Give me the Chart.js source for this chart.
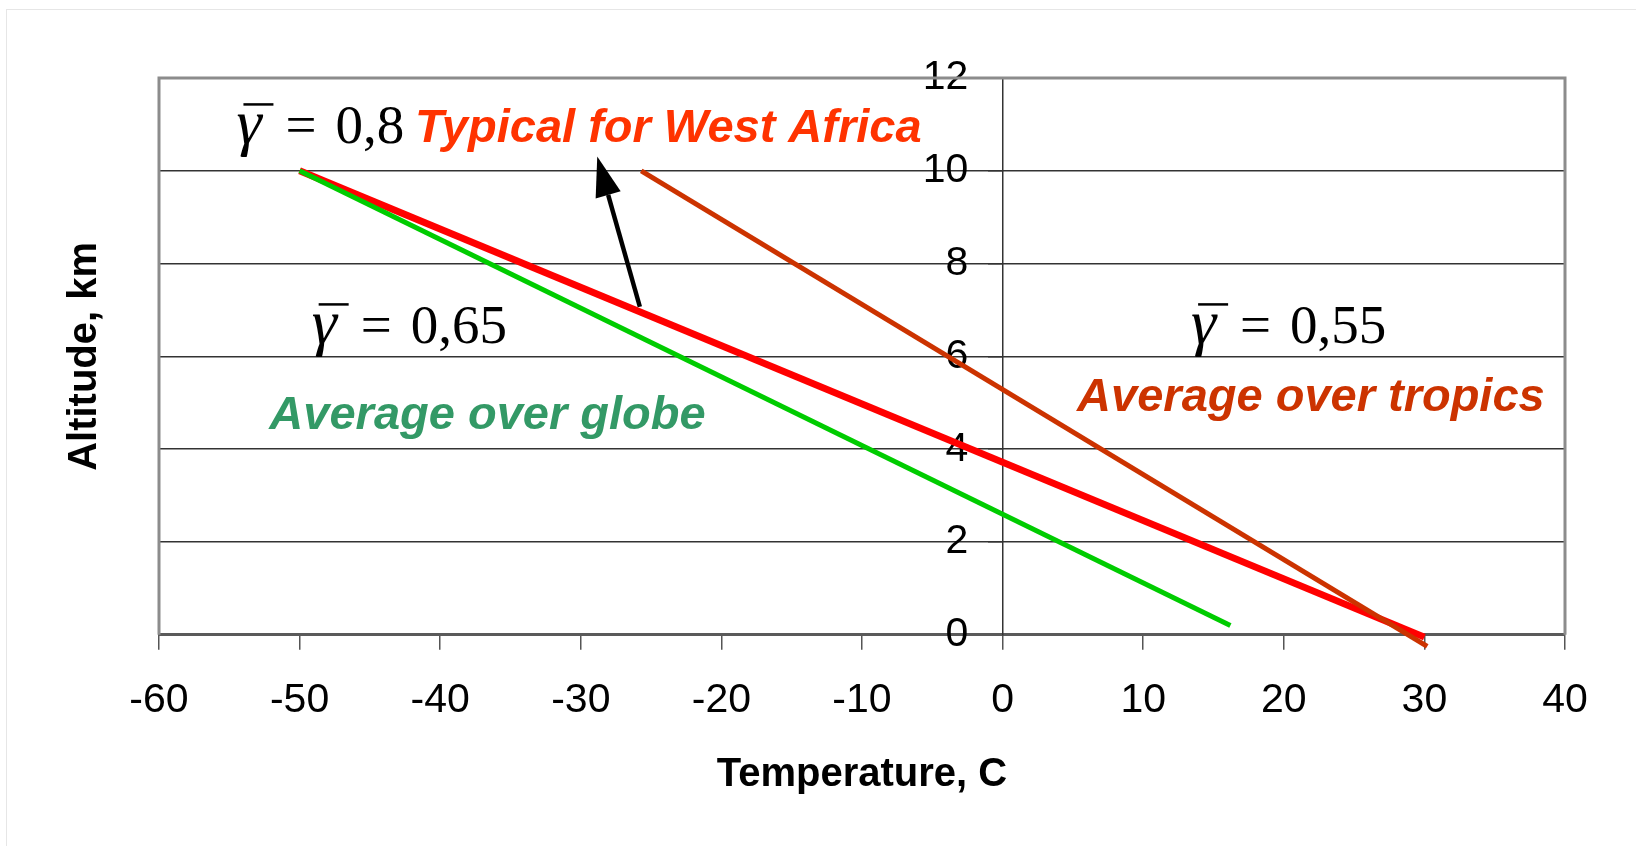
<!DOCTYPE html>
<html>
<head>
<meta charset="utf-8">
<title>Lapse rate</title>
<script src="https://cdn.jsdelivr.net/npm/chart.js@4.4.0/dist/chart.umd.min.js"></script>
<style>
    html, body { margin: 0; padding: 0; background: #fff; }
    #wrap { position: relative; width: 1636px; height: 846px; }
    #edge { position: absolute; left: 6px; top: 9px; right: 0; bottom: 0; border-top: 1px solid #e6e6e6; border-left: 1px solid #e6e6e6; pointer-events: none; }
</style>
</head>
<body>
<div id="wrap">
    <canvas id="lapseChart"></canvas>
    <div id="edge"></div>
</div>
<script>
// series: temperature (C) vs altitude (km)
var westAfricaT = [-50, 30];
var westAfricaH = [10, -0.05];
var globeT = [-50, 16.2];
var globeH = [10, 0.2];
var tropicsT = [-25.7, 30.2];
var tropicsH = [10, -0.25];

// axis ticks
var xTicks = [-60, -50, -40, -30, -20, -10, 0, 10, 20, 30, 40];
var yTicks = [0, 2, 4, 6, 8, 10, 12];

// annotations (data coordinates)
var gammaValues = ['0,8', '0,65', '0,55'];
var gammaX = [-54.35, -49.0, 13.55];
var gammaY = [10.59, 6.28, 6.28];

var noteText = ['Typical for West Africa', 'Average over globe', 'Average over tropics'];
var noteX = [-41.8, -52.15, 5.3];
var noteY = [10.61, 4.44, 4.83];
var noteColor = ['#ff3300', '#339966', '#cc3300'];

var arrowX = [-25.8, -28.83];
var arrowY = [7.07, 10.31];

function toPoints(xs, ys) {
    return xs.map(function (x, i) { return { x: x, y: ys[i] }; });
}

// plot frame (top, left, right)
var framePlugin = {
    id: 'frame',
    beforeDatasetsDraw: function (chart) {
        var a = chart.chartArea, ctx = chart.ctx;
        ctx.save();
        ctx.strokeStyle = '#8c8c8c';
        ctx.lineWidth = 3;
        ctx.beginPath();
        ctx.moveTo(a.left, a.bottom);
        ctx.lineTo(a.left, a.top);
        ctx.lineTo(a.right, a.top);
        ctx.lineTo(a.right, a.bottom);
        ctx.stroke();
        ctx.restore();
    }
};

// formulas, captions and arrow
var notesPlugin = {
    id: 'notes',
    afterDatasetsDraw: function (chart) {
        var ctx = chart.ctx, xs = chart.scales.x, ys = chart.scales.y;
        ctx.save();
        ctx.textAlign = 'left';
        ctx.textBaseline = 'alphabetic';

        gammaValues.forEach(function (val, i) {
            var x0 = xs.getPixelForValue(gammaX[i]);
            var base = ys.getPixelForValue(gammaY[i]);
            ctx.fillStyle = '#000';
            ctx.font = 'italic 64px "Liberation Serif"';
            ctx.fillText('\u03b3', x0 - 2, base);
            ctx.strokeStyle = '#000';
            ctx.lineWidth = 2.5;
            ctx.beginPath();
            ctx.moveTo(x0 + 5, base - 39);
            ctx.lineTo(x0 + 35, base - 39);
            ctx.stroke();
            ctx.font = '55px "Liberation Serif"';
            ctx.fillText('=', x0 + 47, base);
            ctx.fillText(val, x0 + 97, base);
        });

        noteText.forEach(function (t, i) {
            ctx.fillStyle = noteColor[i];
            ctx.font = 'italic bold 47px "Liberation Sans"';
            ctx.fillText(t, xs.getPixelForValue(noteX[i]), ys.getPixelForValue(noteY[i]));
        });

        // arrow
        var x1 = xs.getPixelForValue(arrowX[0]), y1 = ys.getPixelForValue(arrowY[0]);
        var x2 = xs.getPixelForValue(arrowX[1]), y2 = ys.getPixelForValue(arrowY[1]);
        var ang = Math.atan2(y2 - y1, x2 - x1);
        var headLen = 40, headHalf = 13;
        var bx = x2 - Math.cos(ang) * headLen, by = y2 - Math.sin(ang) * headLen;
        ctx.strokeStyle = '#000';
        ctx.lineWidth = 4.5;
        ctx.beginPath();
        ctx.moveTo(x1, y1);
        ctx.lineTo(bx, by);
        ctx.stroke();
        ctx.fillStyle = '#000';
        ctx.beginPath();
        ctx.moveTo(x2, y2);
        ctx.lineTo(bx + Math.sin(ang) * headHalf, by - Math.cos(ang) * headHalf);
        ctx.lineTo(bx - Math.sin(ang) * headHalf, by + Math.cos(ang) * headHalf);
        ctx.closePath();
        ctx.fill();
        ctx.restore();
    }
};

new Chart('lapseChart', {
    type: 'scatter',
    data: {
        datasets: [{
            label: 'Typical for West Africa',
            data: toPoints(westAfricaT, westAfricaH),
            borderColor: '#ff0000',
            borderWidth: 7,
            order: 3
        },
        {
            label: 'Average over globe',
            data: toPoints(globeT, globeH),
            borderColor: '#00cc00',
            borderWidth: 5,
            order: 2
        },
        {
            label: 'Average over tropics',
            data: toPoints(tropicsT, tropicsH),
            borderColor: '#cc3300',
            borderWidth: 5,
            order: 1
        }]
    },
    options: {
        responsive: true,
        maintainAspectRatio: false,
        animation: false,
        clip: false,
        showLine: true,
        elements: {
            point: { radius: 0, hoverRadius: 0 },
            line: { tension: 0, borderCapStyle: 'butt' }
        },
        layout: {
            padding: { left: 20, right: 71, top: 78, bottom: 47 }
        },
        plugins: {
            legend: { display: false },
            tooltip: { enabled: false }
        },
        scales: {
            x: {
                type: 'linear',
                position: 'bottom',
                min: -60,
                max: 40,
                afterBuildTicks: function (scale) {
                    scale.ticks = xTicks.map(function (v) { return { value: v }; });
                },
                grid: {
                    drawOnChartArea: false,
                    drawTicks: true,
                    tickLength: 15,
                    color: '#555',
                    lineWidth: 1.5
                },
                border: { display: true, color: '#5a5a5a', width: 3 },
                ticks: {
                    color: '#000',
                    padding: 26,
                    maxRotation: 0,
                    font: { family: '"Liberation Sans"', size: 41 }
                },
                title: {
                    display: true,
                    text: 'Temperature, C',
                    color: '#000',
                    padding: { top: 0, bottom: 0 },
                    font: { family: '"Liberation Sans"', size: 40, weight: 'bold' }
                }
            },
            y: {
                type: 'linear',
                position: { x: 0 },
                min: 0,
                max: 12,
                afterBuildTicks: function (scale) {
                    scale.ticks = yTicks.map(function (v) { return { value: v }; });
                },
                grid: {
                    drawTicks: true,
                    tickLength: 14,
                    lineWidth: 1.5,
                    tickColor: '#333',
                    color: function (c) { return c.tick && c.tick.value === 12 ? 'rgba(0,0,0,0)' : '#333'; }
                },
                border: { display: true, color: '#333', width: 1.5 },
                ticks: {
                    color: '#000',
                    padding: 26,
                    font: { family: '"Liberation Sans"', size: 41 },
                    // keep labels clear of the axis line at x = 0
                    callback: function (value) { return value + '   '; }
                }
            },
            yTitle: {
                type: 'linear',
                position: 'left',
                min: 0,
                max: 12,
                grid: { display: false, drawTicks: false },
                border: { display: false },
                ticks: { display: false },
                title: {
                    display: true,
                    text: 'Altitude, km',
                    color: '#000',
                    padding: { top: 41, bottom: 50 },
                    font: { family: '"Liberation Sans"', size: 40, weight: 'bold' }
                }
            }
        }
    },
    plugins: [framePlugin, notesPlugin]
});
</script>
</body>
</html>
